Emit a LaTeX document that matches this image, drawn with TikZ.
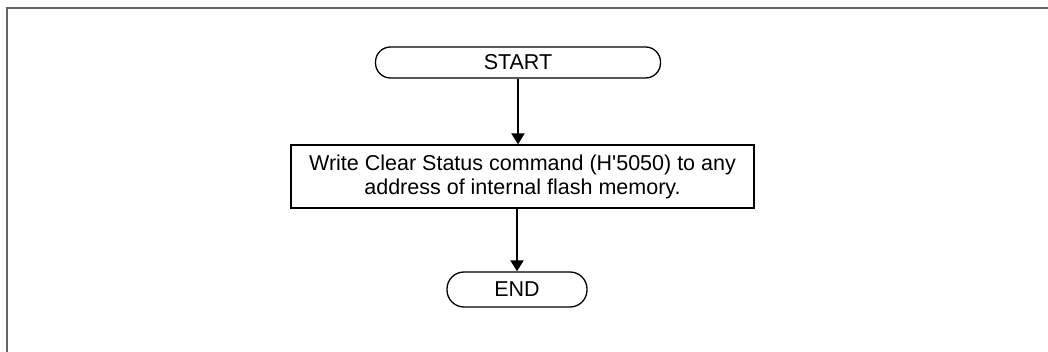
\documentclass[tikz,border=0pt]{standalone}
\usepackage{fontspec}
\setmainfont{Liberation Sans}[Ligatures=TeXOff]
\usetikzlibrary{arrows.meta}
\begin{document}
\begin{tikzpicture}[x=1pt,y=-1pt,
  term/.style={draw=black,line width=1.3pt,rounded corners=15pt,inner sep=0pt,font=\fontsize{21.5}{24}\selectfont},
  procbox/.style={draw=black,line width=1.3pt,inner sep=0pt,align=center,font=\fontsize{21.5}{24}\selectfont},
  flow/.style={line width=2pt,-{Triangle[width=13pt,length=11pt]}},
  frame/.style={draw=black!60,line width=2pt}]
\useasboundingbox (0,0) rectangle (1048,352);
\draw[frame] (6.5,352) -- (6.5,8.5) -- (1048,8.5);
\node[term,minimum width=285pt,minimum height=31pt] (start) at (518,62.5) {START};
\node[procbox,minimum width=463pt,minimum height=63pt] (proc) at (522.5,176.5)
  {Write Clear Status command (H'5050) to any\\address of internal flash memory.};
\node[term,minimum width=140pt,minimum height=35pt,rounded corners=17pt] (end) at (517,289.5) {END};
\draw[flow] (start.south) -- (start.south |- proc.north);
\draw[flow] (end.north |- proc.south) -- (end.north);
\end{tikzpicture}
\end{document}
